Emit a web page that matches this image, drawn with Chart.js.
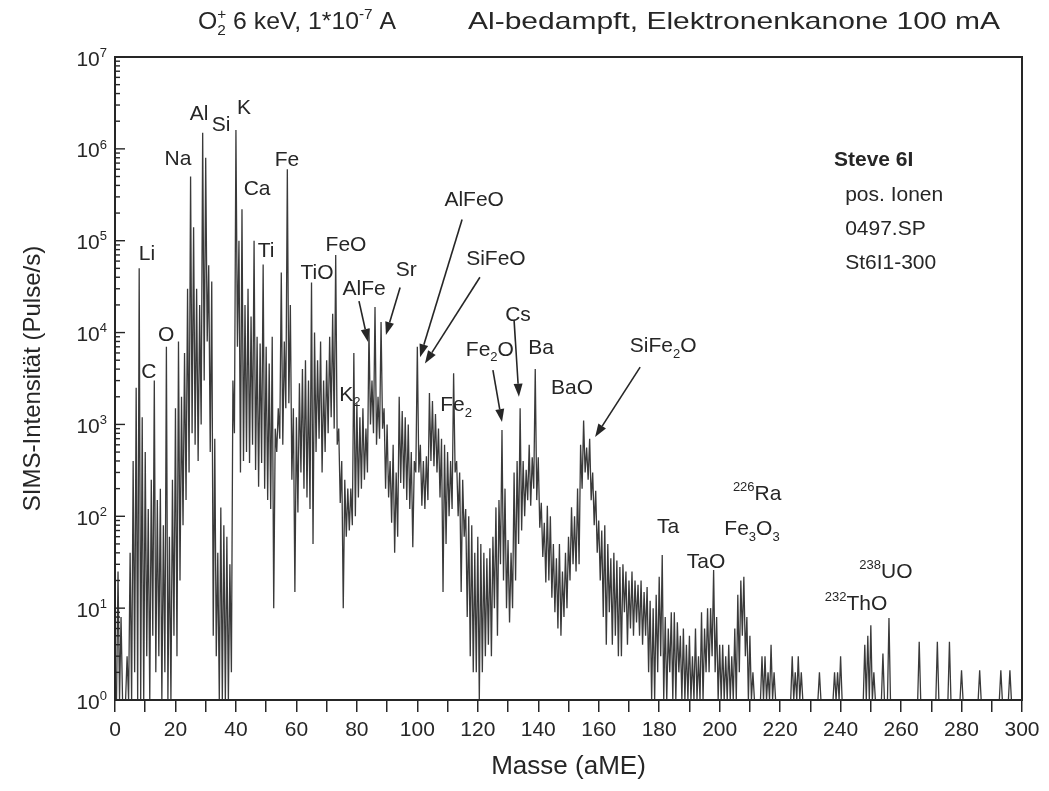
<!DOCTYPE html>
<html>
<head>
<meta charset="utf-8">
<script src="https://cdn.jsdelivr.net/npm/chart.js@4.4.1/dist/chart.umd.min.js"></script>
<style>
  html, body { margin: 0; padding: 0; background: #fff; }
</style>
</head>
<body>
<canvas id="c" width="1049" height="791"></canvas>
<script>
// SIMS spectrum, one peak height and one valley height per mass (aME)
const firstMass = 0;

const peakHeights = [
  1, 25, 8, 1, 3, 40, 400, 2500, 50000, 1200,
  500, 120, 250, 3000, 150, 200, 80, 7000, 60, 250,
  1500, 8000, 2000, 6000, 30000, 500000, 140000, 30000, 20000, 1500000,
  800000, 54000, 36000, 700, 40, 125, 80, 60, 30, 3000,
  1600000, 100000, 220000, 20000, 30000, 15000, 100000, 9000, 7600, 55000,
  7000, 4600, 9000, 900, 1500, 45000, 8000, 600000, 20000, 1500,
  1200, 2800, 4000, 5000, 3000, 35000, 10000, 5000, 8000, 3000,
  5000, 9000, 16000, 70000, 900, 400, 250, 200, 200, 6000,
  1700, 1200, 1500, 900, 11000, 3000, 19000, 2000, 13000, 1500,
  1000, 400, 600, 300, 2000, 1400, 1200, 1000, 500, 400,
  7000, 600, 400, 450, 2200, 1800, 1300, 900, 700, 600,
  500, 400, 3600, 400, 300, 250, 120, 100, 80, 40,
  60, 50, 40, 35, 45, 60, 125, 150, 870, 200,
  55, 40, 300, 400, 1500, 400, 320, 600, 440, 4000,
  440, 140, 85, 130, 100, 50, 35, 50, 25, 40,
  60, 125, 100, 200, 600, 1100, 560, 700, 300, 190,
  90, 70, 80, 50, 35, 40, 33, 28, 30, 25,
  20, 25, 20, 18, 20, 15, 17, 12, 10, 14,
  22, 38, 8, 6, 9, 9, 7, 5, 6, 4,
  5, 3, 6, 3, 9, 6, 10, 10, 26, 8,
  4, 4, 3, 4, 3, 6, 14, 20, 22, 8,
  5, 2, 1, 1, 3, 3, 2, 4, 2, 1,
  1, 1, 1, 1, 3, 2, 3, 2, 1, 1,
  1, 1, 1, 2, 1, 1, 1, 1, 2, 2,
  3, 1, 1, 1, 1, 1, 1, 1, 4, 5,
  6.5, 2, 1, 1, 3.2, 1, 7.8, 1, 1, 1,
  1, 1, 1, 1, 1, 1, 4.3, 1, 1, 1,
  1, 1, 4.3, 1, 1, 1, 4.3, 1, 1, 1,
  2.1, 1, 1, 1, 1, 1, 2.1, 1, 1, 1,
  1, 1, 1, 2.1, 1, 1, 2.1, 1, 1, 1,
  1
];

const valleyHeights = [
  1, 1, 1, 1, 1, 1, 2, 1, 1, 1,
  3, 1, 5, 2, 3, 1, 2, 1, 1, 5,
  3, 20, 80, 150, 300, 800, 600, 400, 1000, 3000,
  8000, 500, 5, 3, 1, 1, 1, 1, 2, 800,
  7000, 300, 400, 500, 380, 600, 320, 210, 380, 200,
  150, 120, 10, 500, 700, 600, 1500, 1700, 250, 15,
  110, 300, 200, 160, 120, 50, 500, 700, 300, 500,
  800, 1200, 900, 600, 140, 10, 60, 70, 80, 100,
  160, 200, 250, 300, 1000, 800, 600, 700, 900, 200,
  160, 85, 40, 60, 230, 200, 150, 120, 46, 300,
  300, 130, 120, 150, 400, 350, 300, 160, 15, 50,
  100, 120, 300, 100, 15, 60, 8, 3, 2, 2,
  1, 2, 3, 4, 3, 10, 5, 30, 20, 10,
  7, 10, 20, 50, 70, 100, 150, 130, 200, 150,
  75, 36, 19, 20, 13, 9, 6, 5, 8, 10,
  20, 30, 25, 30, 200, 300, 250, 150, 80, 40,
  20, 8, 4, 9, 4, 5, 3, 3, 9, 4,
  6, 5, 7, 5, 4, 5, 2, 1, 1, 2,
  3, 1, 1, 2, 1, 1, 2, 1, 1, 1,
  1, 1, 1, 1, 1, 2, 2, 3, 2, 1,
  1, 1, 1, 1, 1, 1, 2, 5, 3, 1,
  1, 1, 1, 1, 1, 1, 1, 1, 1, 1,
  1, 1, 1, 1, 1, 1, 1, 1, 1, 1,
  1, 1, 1, 1, 1, 1, 1, 1, 1, 1,
  1, 1, 1, 1, 1, 1, 1, 1, 1, 1,
  1, 1, 1, 1, 1, 1, 1, 1, 1, 1,
  1, 1, 1, 1, 1, 1, 1, 1, 1, 1,
  1, 1, 1, 1, 1, 1, 1, 1, 1, 1,
  1, 1, 1, 1, 1, 1, 1, 1, 1, 1,
  1, 1, 1, 1, 1, 1, 1, 1, 1, 1,
  1
];

const decades = [0, 1, 2, 3, 4, 5, 6, 7];
const massTicks = [0, 20, 40, 60, 80, 100, 120, 140, 160, 180, 200, 220, 240, 260, 280, 300];

// peak names, placed at (mass, intensity)
const peakLabels = [
  [['Li'], 10.6, 7.5e4], [['C'], 11.2, 3.9e3], [['O'], 16.9, 9.8e3],
  [['Na'], 20.8, 8.1e5], [['Al'], 27.8, 2.5e6], [['Si'], 35.1, 1.9e6],
  [['K'], 42.7, 2.9e6], [['Ca'], 47.0, 3.8e5], [['Ti'], 50.0, 8e4],
  [['Fe'], 56.9, 7.9e5], [['TiO'], 66.8, 4.6e4], [['FeO'], 76.4, 9.3e4],
  [['AlFe'], 82.4, 3.1e4], [['Sr'], 96.3, 5e4], [['K', { sub: '2' }], 77.7, 2.2e3],
  [['AlFeO'], 118.8, 2.9e5], [['SiFeO'], 126.0, 6.6e4], [['Cs'], 133.3, 1.6e4],
  [['Fe', { sub: '2' }, 'O'], 124.0, 6.8e3], [['Ba'], 140.9, 7.1e3],
  [['Fe', { sub: '2' }], 112.8, 1.7e3], [['BaO'], 151.2, 2.6e3],
  [['SiFe', { sub: '2' }, 'O'], 181.3, 7.4e3], [['Ta'], 182.9, 79], [['TaO'], 195.5, 33],
  [[{ sup: '226' }, 'Ra'], 212.4, 182], [['Fe', { sub: '3' }, 'O', { sub: '3' }], 210.7, 76],
  [[{ sup: '238' }, 'UO'], 255.0, 26], [[{ sup: '232' }, 'ThO'], 245.1, 11.5]
];

// arrows: from (mass, intensity) to (mass, intensity)
const arrows = [
  [80.7, 2.2e4, 83.7, 7.9e3],
  [94.3, 3.1e4, 89.6, 9.4e3],
  [114.8, 1.7e5, 100.9, 5.4e3],
  [120.7, 4.0e4, 102.5, 4.6e3],
  [132.0, 1.36e4, 133.6, 2.0e3],
  [125.0, 3.9e3, 128.0, 1.06e3],
  [173.7, 4.2e3, 158.8, 730]
];

const sampleInfo = ['Steve 6I', 'pos. Ionen', '0497.SP', 'St6I1-300'];
const sampleInfoAt = [[237.8, 7.9e5], [241.5, 3.3e5], [241.5, 1.4e5], [241.5, 5.9e4]];

const FONT = '"Liberation Sans", Arial, Helvetica, sans-serif';
const INK = '#262626';

function setFont(ctx, size, bold) {
  ctx.font = (bold ? 'bold ' : '') + size + 'px ' + FONT;
}

function partWidth(ctx, p, size, bold) {
  if (typeof p === 'string') {
    setFont(ctx, size, bold);
    return ctx.measureText(p).width;
  }
  setFont(ctx, size * 0.62, bold);
  return Math.max(p.sub ? ctx.measureText(p.sub).width : 0, p.sup ? ctx.measureText(p.sup).width : 0);
}

// y is the middle of the normal-size text; fitWidth stretches the run sideways
function drawRich(ctx, parts, x, y, size, align, bold, fitWidth) {
  let total = 0;
  parts.forEach(p => { total += partWidth(ctx, p, size, bold); });
  const sx = fitWidth ? fitWidth / total : 1;
  const shown = total * sx;
  const left = align === 'center' ? x - shown / 2 : align === 'right' ? x - shown : x;
  const base = y + size * 0.36;
  ctx.save();
  ctx.translate(left, base);
  ctx.scale(sx, 1);
  ctx.textAlign = 'left';
  ctx.textBaseline = 'alphabetic';
  let cx = 0;
  parts.forEach(p => {
    const w = partWidth(ctx, p, size, bold);
    if (typeof p === 'string') {
      setFont(ctx, size, bold);
      ctx.fillText(p, cx, 0);
    } else {
      setFont(ctx, size * 0.62, bold);
      if (p.sub) ctx.fillText(p.sub, cx, size * 0.28);
      if (p.sup) ctx.fillText(p.sup, cx, -size * 0.42);
    }
    cx += w;
  });
  ctx.restore();
}

const trace = [];
peakHeights.forEach((h, i) => {
  trace.push({ x: firstMass + i, y: h });
  trace.push({ x: firstMass + i + 0.5, y: valleyHeights[i] });
});

const decorations = {
  id: 'decorations',
  afterDatasetsDraw(chart) {
    const { ctx, chartArea: a, scales: { x, y } } = chart;
    ctx.save();
    ctx.fillStyle = INK;
    ctx.strokeStyle = INK;

    // frame
    ctx.lineWidth = 2;
    ctx.strokeRect(a.left, a.top, a.right - a.left, a.bottom - a.top);

    // inward log ticks on the y axis
    ctx.lineWidth = 1.4;
    decades.forEach(d => {
      const py = y.getPixelForValue(Math.pow(10, d));
      ctx.beginPath();
      ctx.moveTo(a.left, py);
      ctx.lineTo(a.left + 10, py);
      ctx.stroke();
      if (d < 7) {
        for (let k = 2; k <= 9; k++) {
          const my = y.getPixelForValue(k * Math.pow(10, d));
          ctx.beginPath();
          ctx.moveTo(a.left, my);
          ctx.lineTo(a.left + 5, my);
          ctx.stroke();
        }
      }
      drawRich(ctx, ['10', { sup: String(d) }], a.left - 8, py + 1, 21, 'right');
    });

    // peak names
    peakLabels.forEach(([parts, m, v]) => {
      drawRich(ctx, parts, x.getPixelForValue(m), y.getPixelForValue(v), 21, 'center');
    });

    // arrows
    ctx.lineWidth = 1.6;
    arrows.forEach(([m0, v0, m1, v1]) => {
      const x0 = x.getPixelForValue(m0), y0 = y.getPixelForValue(v0);
      const x1 = x.getPixelForValue(m1), y1 = y.getPixelForValue(v1);
      const ang = Math.atan2(y1 - y0, x1 - x0);
      const hl = 13, hw = 4.5;
      const bx = x1 - hl * Math.cos(ang), by = y1 - hl * Math.sin(ang);
      ctx.beginPath();
      ctx.moveTo(x0, y0);
      ctx.lineTo(bx, by);
      ctx.stroke();
      ctx.beginPath();
      ctx.moveTo(x1, y1);
      ctx.lineTo(bx + hw * Math.sin(ang), by - hw * Math.cos(ang));
      ctx.lineTo(bx - hw * Math.sin(ang), by + hw * Math.cos(ang));
      ctx.closePath();
      ctx.fill();
    });

    // sample block
    sampleInfo.forEach((t, i) => {
      const [m, v] = sampleInfoAt[i];
      drawRich(ctx, [t], x.getPixelForValue(m), y.getPixelForValue(v), 21, 'left', i === 0);
    });

    // heading
    drawRich(ctx, ['O', { sub: '2', sup: '+' }, ' 6 keV, 1*10', { sup: '-7' }, ' A'], 198, 20, 24, 'left', false, 198);
    drawRich(ctx, ['Al-bedampft, Elektronenkanone 100 mA'], 468, 20, 24, 'left', false, 532);

    ctx.restore();
  }
};

new Chart(document.getElementById('c'), {
  type: 'line',
  data: {
    datasets: [{
      data: trace,
      borderColor: '#3a3a3a',
      borderWidth: 1.3,
      pointRadius: 0,
      tension: 0,
      fill: false
    }]
  },
  options: {
    responsive: false,
    animation: false,
    events: [],
    layout: { padding: { left: 0, right: 27, top: 57, bottom: 0 } },
    plugins: {
      legend: { display: false },
      title: { display: false },
      tooltip: { enabled: false }
    },
    scales: {
      x: {
        type: 'linear',
        min: 0,
        max: 300,
        afterFit: s => { s.height = 91; },
        grid: { drawOnChartArea: false, drawTicks: true, tickLength: 12, color: INK, lineWidth: 1.5 },
        border: { display: false },
        ticks: {
          stepSize: 10,
          autoSkip: false,
          maxRotation: 0,
          padding: 6,
          color: INK,
          font: { family: FONT, size: 21 },
          callback: v => (massTicks.includes(v) ? String(v) : '')
        },
        title: {
          display: true,
          text: 'Masse (aME)',
          color: INK,
          font: { family: FONT, size: 26 },
          padding: { top: 0, bottom: 9 }
        }
      },
      y: {
        type: 'logarithmic',
        min: 1,
        max: 1e7,
        afterFit: s => { s.width = 115; },
        grid: { display: false },
        border: { display: false },
        ticks: { display: false },
        title: {
          display: true,
          text: 'SIMS-Intensität (Pulse/s)',
          color: INK,
          font: { family: FONT, size: 24 },
          padding: { top: 19, bottom: 0 }
        }
      }
    }
  },
  plugins: [decorations]
});
</script>
</body>
</html>
